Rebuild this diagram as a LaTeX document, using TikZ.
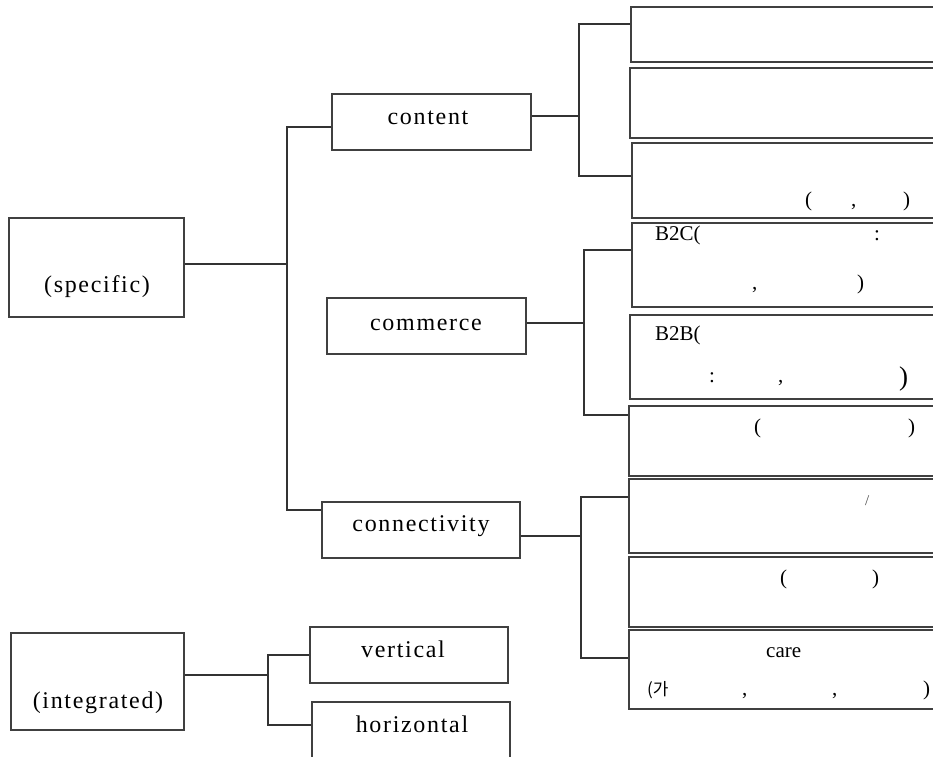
\documentclass[tikz,border=0pt]{standalone}
\usepackage{fontspec}
\setmainfont{Liberation Serif}
\newfontfamily\lblfont[LetterSpace=7]{Liberation Serif}
\newfontfamily\krfont{Noto Sans CJK KR}
\usepackage{tikz}
\usetikzlibrary{positioning}

\tikzset{
  box/.style={draw=black!75, line width=1.1pt, inner sep=0pt},
  rbox/.style={box, minimum width=316pt},
  lbl/.style={font=\lblfont\fontsize{24}{28}\selectfont, anchor=base, inner sep=0pt},
  frag/.style={font=\fontsize{21}{24}\selectfont, anchor=base west, inner sep=0pt},
  link/.style={draw=black!80, line width=1.1pt}
}

\begin{document}
\begin{tikzpicture}[x=1pt, y=-1pt]
    \useasboundingbox (0,0) rectangle (933,756);
    \clip (0,0) rectangle (933,756);

    % Left boxes
    \node[box, minimum width=175pt, minimum height=99pt] (specific) at (96.5,267.5) {};
    \node[lbl] (specific text) at (97,292) {(specific)};
    \node[box, minimum width=173pt, minimum height=97pt] (integrated) at (97.5,681.5) {};
    \node[lbl] (integrated text) at (98,708) {(integrated)};

    % Middle boxes
    \node[box, minimum width=199pt, minimum height=56pt] (content) at (431.5,122) {};
    \node[lbl] (content text) at (428,124) {content};
    \node[box, minimum width=199pt, minimum height=56pt] (commerce) at (426.5,326) {};
    \node[lbl] (commerce text) at (426,330) {commerce};
    \node[box, minimum width=198pt, minimum height=56pt] (connect) at (421,530) {};
    \node[lbl] (connect text) at (421,531) {connectivity};
    \node[box, minimum width=198pt, minimum height=56pt] (vert) at (409,655) {};
    \node[lbl] (vert text) at (403,657) {vertical};
    \node[box, minimum width=198pt, minimum height=68pt] (horiz) at (411,736) {};
    \node[lbl] (horiz text) at (412,732) {horizontal};

    % Right boxes
    \foreach \n/\l/\t/\b in {c1/631/7/62, c2/630/68/138, c3/632/143/218,
                             m1/632/223/307, m2/630/315/399, m3/629/406/476,
                             n1/629/479/553, n2/629/557/627, n3/629/630/709} {
        \node[rbox, minimum height={(\b-\t)*1pt}] (\n) at ({\l+158}, {(\t+\b)/2}) {};
    }

    % Texts in the right boxes
    \foreach \x/\y/\t in {805/206/(, 851/206/{,}, 903/206/),
                          655/240/B2C(, 874/240/:, 752/289/{,}, 857/289/),
                          655/340/B2B(, 709/382/:, 778/382/{,},
                          754/433/(, 908/433/),
                          780/584/(, 872/584/),
                          766/657/care, 742/695/{,}, 832/695/{,}, 923/695/)} {
        \node[frag] at (\x,\y) {\t};
    }
    \node[frag, font=\fontsize{27}{30}\selectfont] (b2b close) at (899,385) {)};
    \node[frag, font=\fontsize{15}{18}\selectfont, text=black!70] (slash) at (865,505) {/};
    \node[frag, font=\krfont\fontsize{17}{20}\selectfont] (ga) at (647,695) {(가};

    % Trunk from the specific box
    \coordinate (trunk top) at (287,127);
    \coordinate (trunk bot) at (287,510);
    \draw[link] (specific.east |- 0,264) -- (trunk top |- 0,264);
    \draw[link] (content.west |- trunk top) -- (trunk top) -- (trunk bot) -- (connect.west |- trunk bot);

    % Content bracket
    \coordinate (cbt) at (579,24);
    \coordinate (cbb) at (579,176);
    \draw[link] (content.east |- 0,116) -- (cbt |- 0,116);
    \draw[link] (c1.west |- cbt) -- (cbt) -- (cbb) -- (c3.west |- cbb);

    % Commerce bracket
    \coordinate (mbt) at (584,250);
    \coordinate (mbb) at (584,415);
    \draw[link] (commerce.east |- 0,323) -- (mbt |- 0,323);
    \draw[link] (m1.west |- mbt) -- (mbt) -- (mbb) -- (m3.west |- mbb);

    % Connectivity bracket
    \coordinate (nbt) at (581,497);
    \coordinate (nbb) at (581,658);
    \draw[link] (connect.east |- 0,536) -- (nbt |- 0,536);
    \draw[link] (n1.west |- nbt) -- (nbt) -- (nbb) -- (n3.west |- nbb);

    % Integrated bracket
    \coordinate (ibt) at (268,655);
    \coordinate (ibb) at (268,725);
    \draw[link] (integrated.east |- 0,675) -- (ibt |- 0,675);
    \draw[link] (vert.west |- ibt) -- (ibt) -- (ibb) -- (horiz.west |- ibb);
\end{tikzpicture}
\end{document}
